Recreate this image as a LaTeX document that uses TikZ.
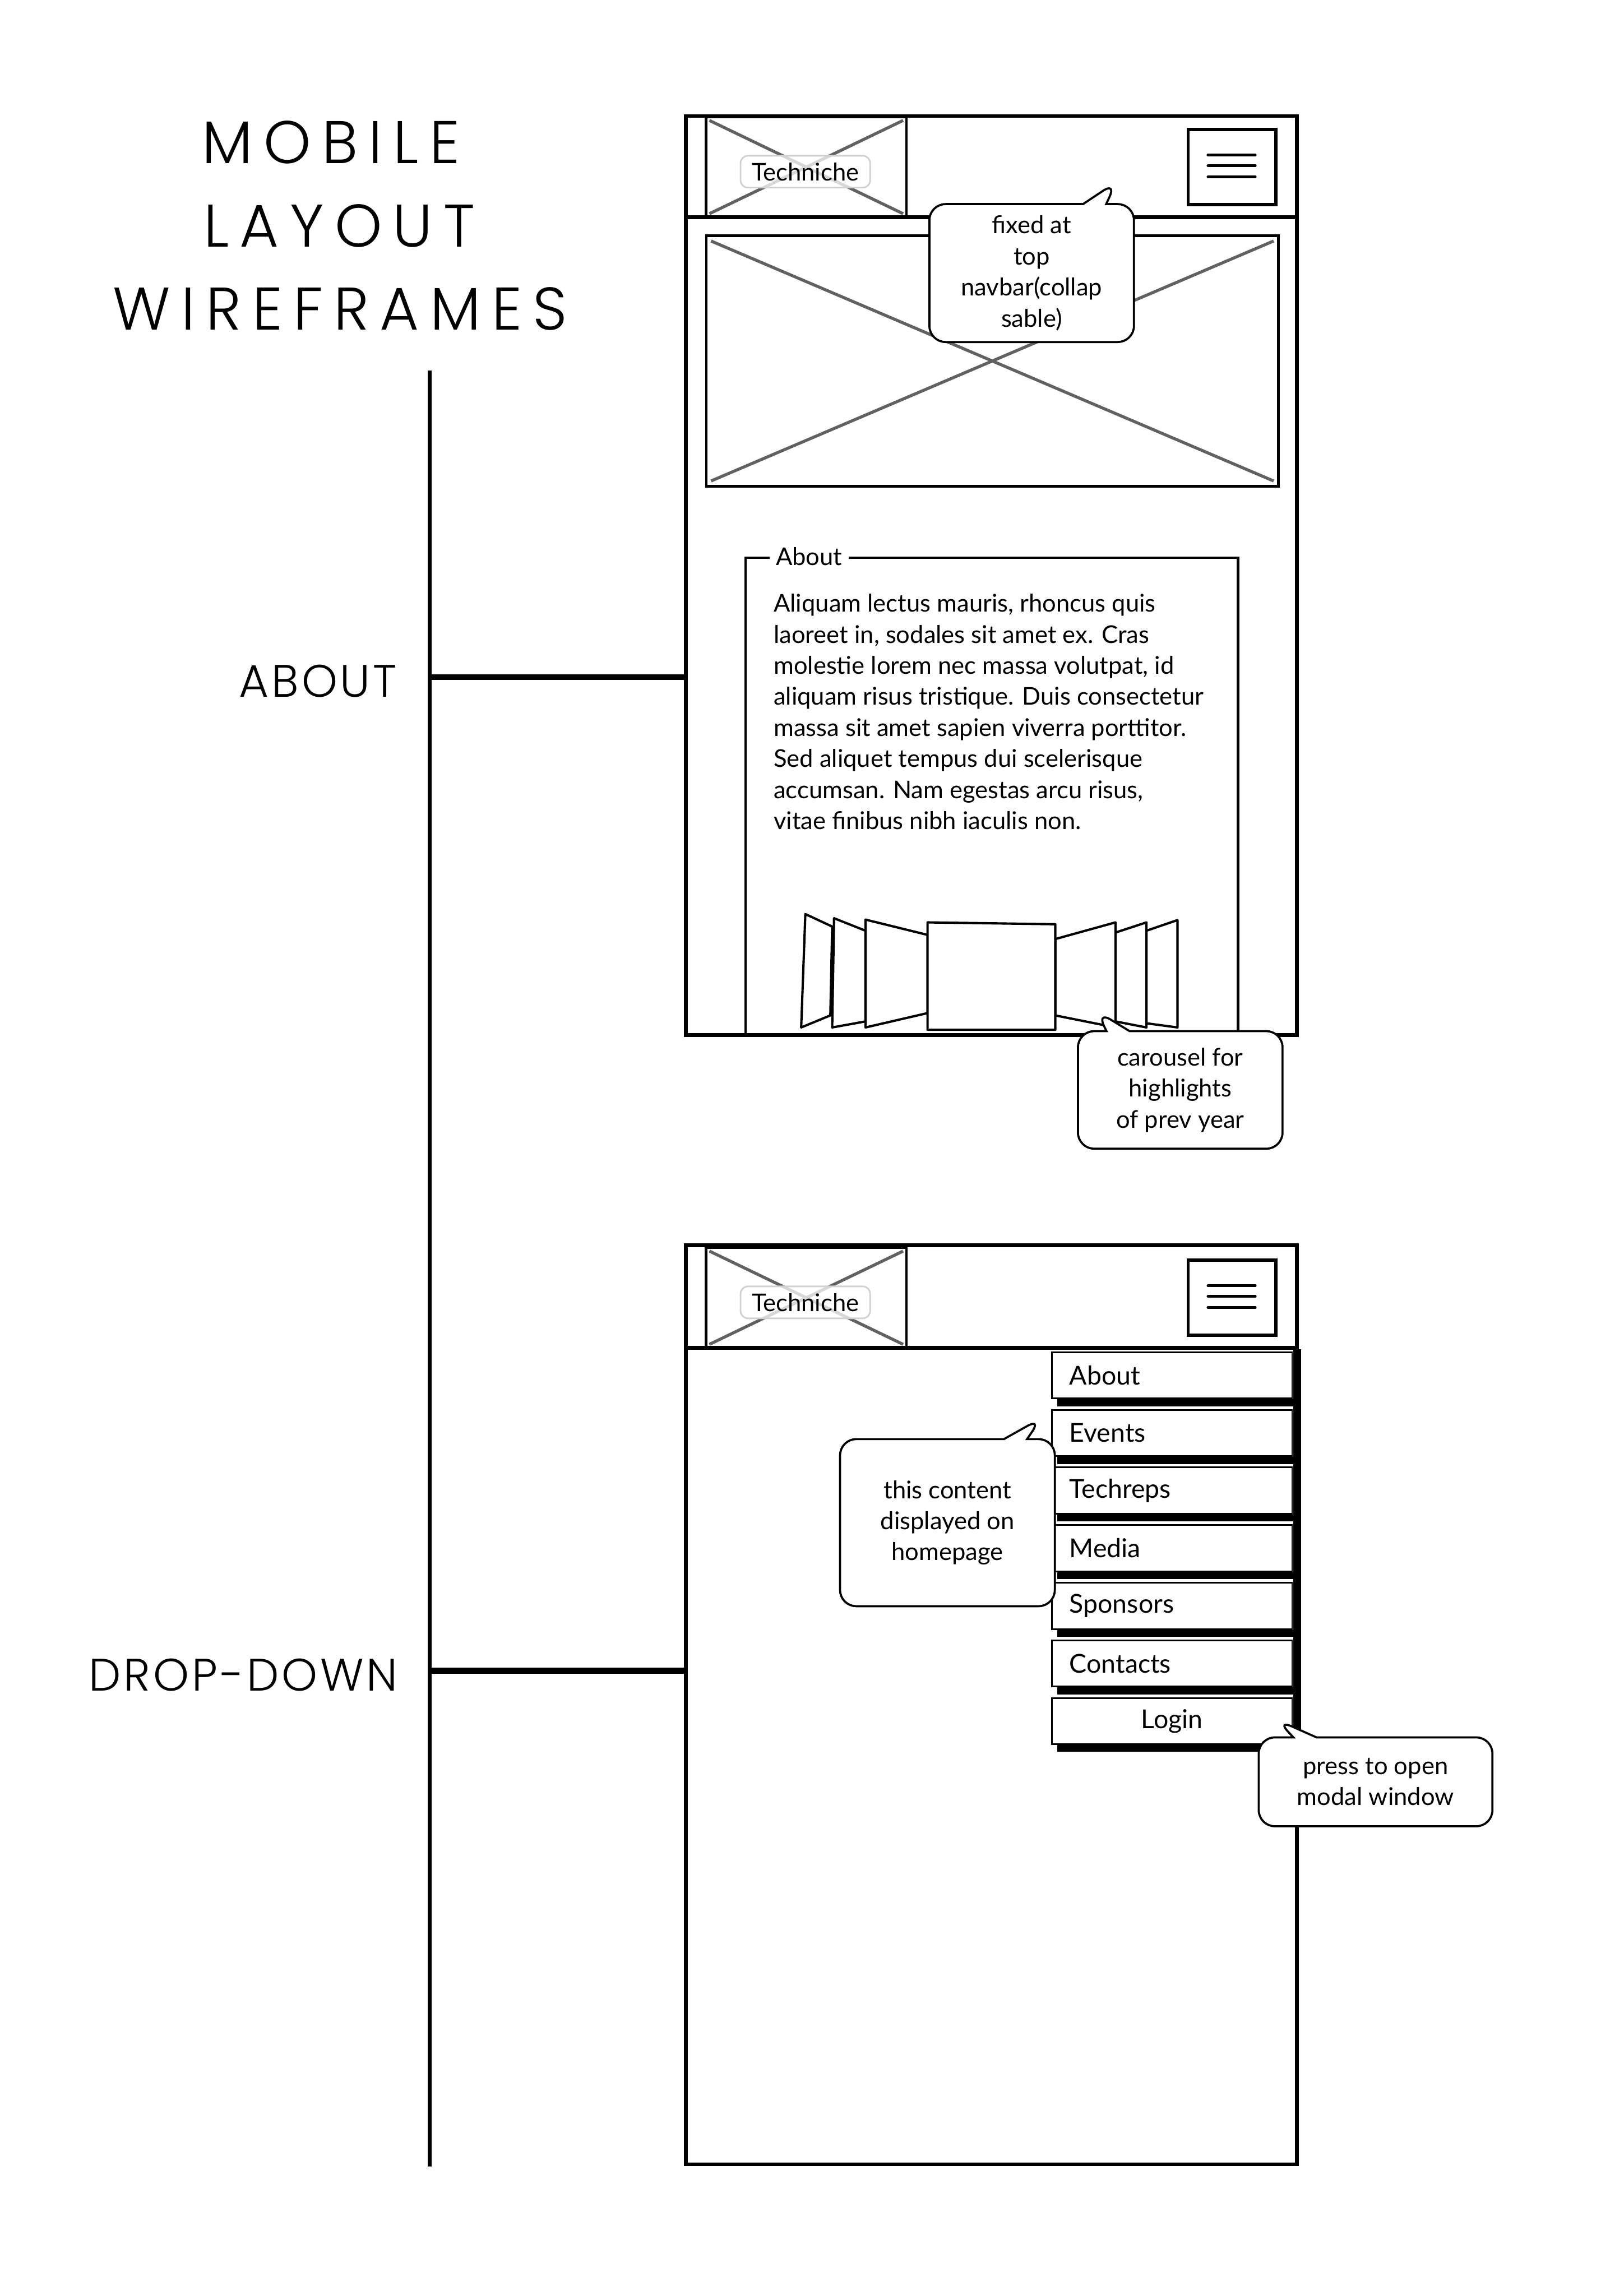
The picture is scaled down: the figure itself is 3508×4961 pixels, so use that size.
\documentclass[tikz,border=0pt]{standalone}
\usepackage{fontspec}
\setmainfont{Lato}
\newfontfamily\titlefont{Poppins Light}[LetterSpace=18]
\newfontfamily\sidefont{Poppins Light}[LetterSpace=6]
\usetikzlibrary{positioning,calc,shapes.callouts}

\begin{document}
\begin{tikzpicture}[
  x=0.1mm, y=-0.1mm,
  font=\fontsize{15}{19.1}\selectfont,
  heading/.style ={font=\titlefont\fontsize{37}{44}\selectfont, anchor=base, inner sep=0pt},
  sidelbl/.style ={font=\sidefont\fontsize{28}{34}\selectfont, anchor=base east, inner sep=0pt},
  phone/.style   ={draw, line width=0.8mm, minimum width=132mm, minimum height=198.6mm, inner sep=0pt},
  imgbox/.style  ={draw, line width=0.55mm, inner sep=0pt},
  cross/.style   ={draw=black!62, line width=0.65mm},
  tag/.style     ={draw=black!18, fill=white, fill opacity=0.75, text opacity=1, rounded corners=1.6mm, line width=0.35mm, minimum width=28mm, minimum height=6.9mm, inner sep=0pt},
  item/.style    ={draw, fill=white, line width=0.35mm, anchor=north west, align=left, text width=44.3mm, inner xsep=3.8mm, inner ysep=0pt, minimum height=10mm, font=\fontsize{16}{19.1}\selectfont},
  itemline/.style={line width=1.5mm},
  panel/.style   ={draw, fill=white, line width=0.5mm, line join=round},
  note/.style    ={rectangle callout, draw, fill=white, line width=0.45mm, rounded corners=3.5mm, align=center, inner sep=1mm, callout pointer width=5mm},
  spine/.style   ={line width=0.8mm},
  link/.style    ={line width=1.3mm},
  node distance=2.1mm
]
\useasboundingbox (0,0) rectangle (3508,4961);

% title and section labels
\node[heading] (ttl1) at (715,353) {MOBILE};
\node[heading] (ttl2) at (733,533) {LAYOUT};
\node[heading] (ttl3) at (735,713) {WIREFRAMES};
\node[sidelbl] (lblabout) at (858,1506) {ABOUT};
\node[sidelbl] (lbldrop)  at (860,3653) {DROP-DOWN};

% the two phone frames
\node[phone] (ph1) at (2142,1243.5) {};
\node[phone] (ph2) at (2142,3683.5) {};

\coordinate (sptop) at (928,800);
\coordinate (spbot) at (928,4681);
\coordinate (j1) at (928,1463);
\coordinate (j2) at (928,3610);
\draw[spine] (sptop) -- (spbot);
\draw[link] (j1) -- (j1 -| ph1.west);
\draw[link] (j2) -- (j2 -| ph2.west);

% header bar, same on both screens
\foreach \i/\dy in {1/0,2/2443}{
  \begin{scope}[shift={(0,\dy)}]
    \draw[line width=0.8mm] (1483,469) -- (2802,469);
    \node[imgbox, minimum width=43.3mm, minimum height=21.6mm] (logo\i) at (1742,361) {};
    \draw[cross] ([shift={(10,10)}]logo\i.north west) -- ([shift={(-10,-10)}]logo\i.south east);
    \draw[cross] ([shift={(-10,10)}]logo\i.north east) -- ([shift={(10,-10)}]logo\i.south west);
    \node[tag] (tag\i) at (1740,371) {Techniche};
    \node[imgbox, line width=0.7mm, minimum width=19mm, minimum height=16.2mm] (ham\i) at (2662,361) {};
    \foreach \dl in {-26,-3,21}
      \draw[line width=0.6mm, line cap=round] ([shift={(-52,\dl)}]ham\i.center) -- ([shift={(50,\dl)}]ham\i.center);
  \end{scope}
}

% about screen
\node[imgbox, minimum width=123.6mm, minimum height=54.1mm] (hero) at (2144,780) {};
\draw[cross] ([shift={(13,14)}]hero.north west) -- ([shift={(-13,-14)}]hero.south east);
\draw[cross] ([shift={(-13,14)}]hero.north east) -- ([shift={(13,-14)}]hero.south west);
\draw[line width=0.55mm] (1611,2238) -- (1611,1205) -- (2675,1205) -- (2675,2238);
\node[fill=white, inner xsep=1.4mm, inner ysep=0.5mm] (grplbl) at (1748,1202) {About};
\node[anchor=base west, align=left, inner sep=0pt] (para) at (1671,1792)
  {Aliquam lectus mauris, rhoncus quis\\
   laoreet in, sodales sit amet ex. Cras\\
   molestie lorem nec massa volutpat, id\\
   aliquam risus tristique. Duis consectetur\\
   massa sit amet sapien viverra porttitor.\\
   Sed aliquet tempus dui scelerisque\\
   accumsan. Nam egestas arcu risus,\\
   vitae finibus nibh iaculis non.};
% carousel
\draw[panel] (1740,1975) -- (1798,2002) -- (1794,2194) -- (1731,2220) -- cycle;
\draw[panel] (1802,1984) -- (1870,2011) -- (1870,2207) -- (1798,2220) -- cycle;
\draw[panel] (1870,1987) -- (2004,2020) -- (2004,2189) -- (1870,2220) -- cycle;
\draw[panel] (2477,2011) -- (2544,1988) -- (2544,2220) -- (2477,2211) -- cycle;
\draw[panel] (2410,2015) -- (2477,1993) -- (2477,2220) -- (2410,2207) -- cycle;
\draw[panel] (2280,2029) -- (2410,1993) -- (2410,2220) -- (2280,2194) -- cycle;
\draw[panel] (2004,1993) -- (2280,1997) -- (2280,2225) -- (2004,2225) -- cycle;

\node[note, minimum width=44.2mm, minimum height=29.8mm, callout absolute pointer={(2412,393)}] (navnote) at (2229,590)
  {fixed at\\top\\navbar(collap\\sable)};
\node[note, minimum width=44.2mm, minimum height=25.4mm, callout absolute pointer={(2370,2185)}] (carnote) at (2550,2355)
  {carousel for\\highlights\\of prev year};

% drop-down screen
\node[item] (m1) at (2271,2920) {About};
\foreach \m [count=\k from 2, remember=\k as \j (initially 1)] in {Events,Techreps,Media,Sponsors,Contacts}
  \node[item, below=of m\j] (m\k) {\m};
\node[item, align=center, below=of m6] (m7) {Login};
\foreach \k in {1,...,7}
  \draw[itemline] ([shift={(13,7.5)}]m\k.south west) -- ([shift={(17,7.5)}]m\k.south east);
\draw[line width=1.7mm] ([shift={(9,-5)}]m1.north east) -- ([shift={(9,15)}]m7.south east);

\node[note, minimum width=46.4mm, minimum height=36.1mm, callout absolute pointer={(2250,3064)}] (homenote) at (2047,3290)
  {this content\\displayed on\\homepage};
\node[note, minimum width=50.5mm, minimum height=19.2mm, callout absolute pointer={(2759,3716)}] (loginnote) at (2972,3850)
  {press to open\\modal window};
\end{tikzpicture}
\end{document}
